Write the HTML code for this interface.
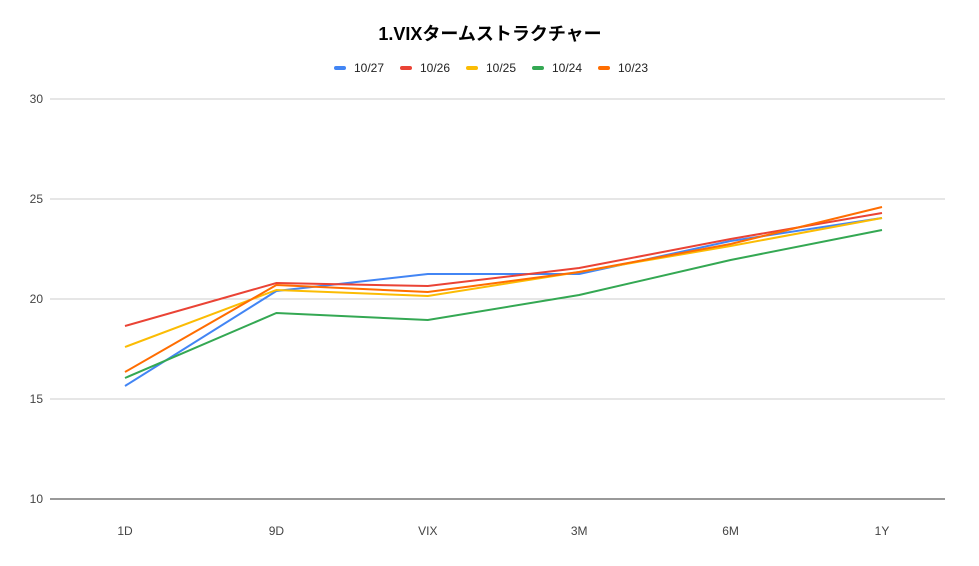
<!DOCTYPE html>
<html><head><meta charset="utf-8"><style>
body{margin:0;background:#fff;font-family:"Liberation Sans","Noto Sans CJK JP",sans-serif}
svg text{font-family:"Liberation Sans","Noto Sans CJK JP",sans-serif}
</style></head><body>
<svg id="chart" width="979" height="561">
<rect width="979" height="561" fill="#fff"/>
<text x="490" y="40" text-anchor="middle" font-size="18" font-weight="bold" fill="#000">1.VIXタームストラクチャー</text>
<g id="grid"></g><g id="lines"></g><g id="legend"></g>
</svg>
<script>
const categories=["1D","9D","VIX","3M","6M","1Y"];
const seriesNames=["10/27","10/26","10/25","10/24","10/23"];
const colors=["#4285f4","#ea4335","#fbbc04","#34a853","#ff6d01"];
const s1027=[15.65,20.4,21.25,21.25,22.9,24.05];
const s1026=[18.65,20.8,20.65,21.55,23.0,24.3];
const s1025=[17.6,20.45,20.15,21.35,22.65,24.05];
const s1024=[16.05,19.3,18.95,20.2,21.95,23.45];
const s1023=[16.35,20.7,20.35,21.35,22.75,24.6];
const yTicks=[10,15,20,25,30];
const series=[s1027,s1026,s1025,s1024,s1023];
const NS="http://www.w3.org/2000/svg";
const x=i=>125+i*151.4;
const y=v=>499-(v-10)*20;
const grid=document.getElementById('grid');
yTicks.forEach(t=>{
 const l=document.createElementNS(NS,'line');
 
 
 l.setAttribute('x1',50);l.setAttribute('x2',945);l.setAttribute('y1',y(t));l.setAttribute('y2',y(t));
 l.setAttribute('stroke',t===10?'#333':'#ccc');l.setAttribute('stroke-width',1);
 grid.appendChild(l);
 const tx=document.createElementNS(NS,'text');
 
 
 tx.setAttribute('x',43);tx.setAttribute('y',y(t)+4);tx.setAttribute('text-anchor','end');tx.setAttribute('font-size',12);tx.setAttribute('fill','#444');
 tx.textContent=t;grid.appendChild(tx);
});
categories.forEach((c,i)=>{
 const tx=document.createElementNS(NS,'text');
 
 
 tx.setAttribute('x',x(i));tx.setAttribute('y',535);tx.setAttribute('text-anchor','middle');tx.setAttribute('font-size',12);tx.setAttribute('fill','#444');
 tx.textContent=c;grid.appendChild(tx);
});
const lines=document.getElementById('lines');
series.forEach((s,k)=>{
 const p=document.createElementNS(NS,'polyline');
 
 
 p.setAttribute('points',s.map((v,i)=>x(i)+','+y(v)).join(' '));
 p.setAttribute('fill','none');p.setAttribute('stroke',colors[k]);p.setAttribute('stroke-width',2);
 lines.appendChild(p);
});
const legend=document.getElementById('legend');
const lx=[334,400,466,532,598];
seriesNames.forEach((n,k)=>{
 const g=document.createElementNS(NS,'g');
 
 
 const r=document.createElementNS(NS,'rect');
 r.setAttribute('x',lx[k]);r.setAttribute('y',66);r.setAttribute('width',12);r.setAttribute('height',4);r.setAttribute('rx',2);r.setAttribute('fill',colors[k]);
 g.appendChild(r);
 const t=document.createElementNS(NS,'text');
 t.setAttribute('x',lx[k]+20);t.setAttribute('y',72);t.setAttribute('font-size',12);t.setAttribute('fill','#222');
 t.textContent=n;g.appendChild(t);
 legend.appendChild(g);
});
</script>
</body></html>
